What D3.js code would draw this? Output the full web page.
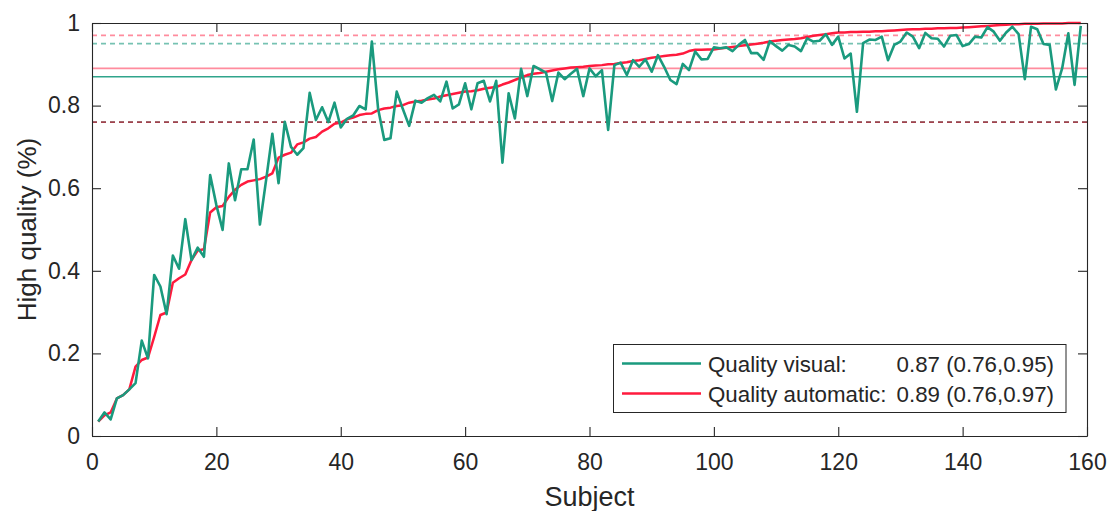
<!DOCTYPE html>
<html><head><meta charset="utf-8">
<script src="https://cdn.jsdelivr.net/npm/d3@7"></script>
<style>html,body{margin:0;padding:0;background:#fff}svg{display:block}text{font-family:"Liberation Sans",Arial,sans-serif;fill:#262626}</style>
</head><body>
<script>
const visual = [0.035,0.057,0.040,0.091,0.099,0.113,0.128,0.231,0.188,0.390,
0.362,0.295,0.437,0.405,0.525,0.426,0.456,0.434,0.632,0.559,
0.499,0.660,0.571,0.646,0.646,0.718,0.512,0.620,0.732,0.612,
0.761,0.700,0.681,0.697,0.831,0.765,0.796,0.760,0.807,0.747,
0.768,0.776,0.799,0.791,0.955,0.793,0.717,0.721,0.834,0.791,
0.751,0.812,0.807,0.818,0.826,0.810,0.858,0.793,0.803,0.854,
0.791,0.854,0.860,0.810,0.860,0.662,0.830,0.769,0.889,0.823,
0.896,0.888,0.880,0.811,0.880,0.864,0.877,0.889,0.823,0.890,
0.871,0.886,0.741,0.898,0.904,0.874,0.910,0.894,0.912,0.882,
0.922,0.894,0.862,0.852,0.901,0.886,0.931,0.912,0.913,0.941,
0.939,0.941,0.932,0.947,0.959,0.927,0.927,0.911,0.956,0.944,
0.933,0.947,0.943,0.932,0.963,0.955,0.957,0.973,0.947,0.967,
0.914,0.926,0.785,0.951,0.960,0.959,0.967,0.910,0.947,0.955,
0.977,0.967,0.939,0.976,0.963,0.962,0.943,0.969,0.971,0.944,
0.949,0.967,0.965,0.990,0.979,0.957,0.977,0.991,0.973,0.864,
0.991,0.985,0.949,0.947,0.839,0.890,0.975,0.850,0.993];
const automatic = [0.035,0.050,0.057,0.091,0.099,0.113,0.168,0.184,0.190,0.240,
0.293,0.299,0.371,0.382,0.391,0.426,0.449,0.452,0.541,0.554,
0.557,0.579,0.596,0.608,0.616,0.619,0.622,0.628,0.636,0.674,
0.681,0.686,0.706,0.711,0.720,0.724,0.737,0.745,0.756,0.759,
0.767,0.771,0.777,0.780,0.781,0.789,0.793,0.795,0.799,0.801,
0.807,0.810,0.812,0.815,0.817,0.822,0.825,0.828,0.831,0.834,
0.835,0.837,0.841,0.843,0.845,0.851,0.856,0.862,0.868,0.874,
0.877,0.879,0.882,0.885,0.888,0.890,0.892,0.893,0.894,0.896,
0.897,0.898,0.900,0.901,0.903,0.905,0.908,0.910,0.913,0.916,
0.918,0.920,0.922,0.923,0.926,0.932,0.935,0.935,0.936,0.936,
0.938,0.940,0.942,0.944,0.946,0.948,0.950,0.952,0.955,0.957,
0.959,0.960,0.961,0.963,0.966,0.969,0.971,0.973,0.975,0.977,
0.977,0.978,0.978,0.979,0.979,0.980,0.980,0.981,0.982,0.983,
0.984,0.985,0.985,0.986,0.986,0.987,0.987,0.988,0.988,0.989,
0.990,0.991,0.992,0.993,0.994,0.995,0.996,0.997,0.997,0.998,
0.998,0.998,0.999,0.999,0.999,0.999,1.000,1.000,1.000];
const xTicks = [0,20,40,60,80,100,120,140,160];
const yTicks = [0,0.2,0.4,0.6,0.8,1];
const refVisual = {median:0.87, lo:0.76, hi:0.95};
const refAuto = {median:0.89, lo:0.76, hi:0.97};
const legendLabels = ["Quality visual:", "Quality automatic:"];
const legendValues = ["0.87 (0.76,0.95)", "0.89 (0.76,0.97)"];

const W=1110,H=511;
const m={l:92,r:1087,t:23,b:436};
const teal="#1a9a7e", red="#ff1a3d";
const svg=d3.select("body").append("svg").attr("width",W).attr("height",H);
const x=d3.scaleLinear().domain([0,160]).range([m.l,m.r]);
const y=d3.scaleLinear().domain([0,1]).range([m.b,m.t]);

// reference lines
const hl=(v,col,dash,op,w)=>svg.append("line").attr("x1",x(0)).attr("x2",x(160))
  .attr("y1",y(v)).attr("y2",y(v)).attr("stroke",col).attr("stroke-width",w)
  .attr("stroke-opacity",op).attr("stroke-dasharray",dash);
hl(refAuto.hi,red,"5,4",0.5,1.6);
hl(refVisual.hi,teal,"5,4",0.6,1.6);
hl(refAuto.median,red,null,0.5,1.8);
hl(refVisual.median,teal,null,0.9,1.4);
hl(refVisual.lo,teal,"5,4",0.7,1.6);
hl(refAuto.lo,"#c0102a","5,4",0.7,1.6);

const line=d3.line().x((d,i)=>x(i+1)).y(d=>y(d));
svg.append("path").datum(automatic).attr("d",line).attr("fill","none").attr("stroke",red).attr("stroke-width",2.5).attr("stroke-linejoin","round");
svg.append("path").datum(visual).attr("d",line).attr("fill","none").attr("stroke",teal).attr("stroke-width",2.6).attr("stroke-linejoin","round");

// axes box (MATLAB style ticks inside)
const ax="#262626", tl=9, tfs=23;
const gB=svg.append("g").attr("transform",`translate(0,${m.b})`).call(d3.axisBottom(x).tickValues(xTicks).tickSizeInner(-tl).tickSizeOuter(0).tickPadding(18).tickFormat(d3.format("d")));
const gT=svg.append("g").attr("transform",`translate(0,${m.t})`).call(d3.axisTop(x).tickValues(xTicks).tickSizeInner(-tl).tickSizeOuter(0).tickFormat(""));
const gL=svg.append("g").attr("transform",`translate(${m.l},0)`).call(d3.axisLeft(y).tickValues(yTicks).tickSizeInner(-tl).tickSizeOuter(0).tickPadding(12).tickFormat(d=>d===0||d===1?d3.format("d")(d):d3.format(".1f")(d)));
const gR=svg.append("g").attr("transform",`translate(${m.r},0)`).call(d3.axisRight(y).tickValues(yTicks).tickSizeInner(-tl).tickSizeOuter(0).tickFormat(""));
[gB,gT,gL,gR].forEach(g=>{g.select(".domain").attr("stroke",ax).attr("stroke-width",1.1);g.selectAll(".tick line").attr("stroke",ax).attr("stroke-width",1.1);g.selectAll("text").attr("font-size",tfs).attr("fill",ax).attr("font-family","Liberation Sans, Arial, sans-serif");});

svg.append("text").attr("x",(m.l+m.r)/2).attr("y",506).attr("text-anchor","middle").attr("font-size",27).text("Subject");
svg.append("text").attr("transform",`translate(36,${(m.t+m.b)/2}) rotate(-90)`).attr("text-anchor","middle").attr("font-size",26).text("High quality (%)");

// legend
const lg=svg.append("g");
lg.append("rect").attr("x",613.5).attr("y",344.5).attr("width",452.5).attr("height",68).attr("fill","#fff").attr("stroke",ax).attr("stroke-width",1);
[teal,red].forEach((c,i)=>{
  const yy=363.5+i*30;
  lg.append("line").attr("x1",622).attr("x2",701).attr("y1",yy).attr("y2",yy).attr("stroke",c).attr("stroke-width",2.4);
  lg.append("text").attr("x",708).attr("y",yy+8).attr("font-size",22.3).text(legendLabels[i]);
  lg.append("text").attr("x",1054).attr("y",yy+8).attr("text-anchor","end").attr("font-size",22.3).text(legendValues[i]);
});
</script>
</body></html>
